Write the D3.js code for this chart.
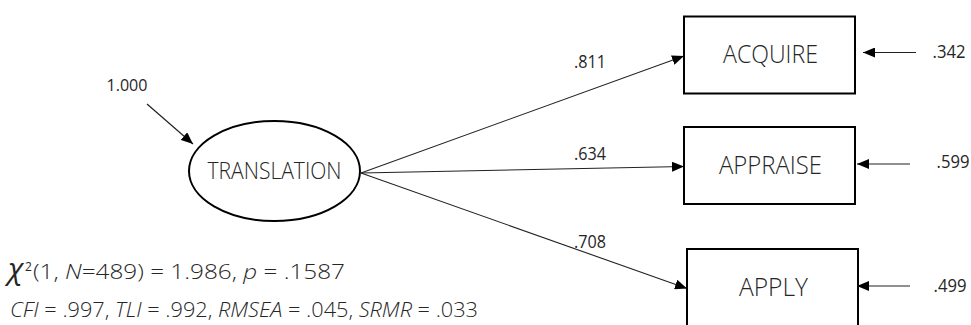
<!DOCTYPE html>
<html>
<head>
<meta charset="utf-8">
<script src="https://cdn.jsdelivr.net/npm/d3@7"></script>
<style>
  html, body { margin: 0; padding: 0; background: #fff; }
  svg { display: block; }
  text { font-family: "Open Sans", "Noto Sans", sans-serif; fill: #262626; }
</style>
</head>
<body>
<svg id="chart" width="971" height="325"></svg>
<script>
// ---- data ----
const latentName = "TRANSLATION";
const latentVariance = "1.000";
const indicators = ["ACQUIRE", "APPRAISE", "APPLY"];
const loadings = [".811", ".634", ".708"];
const residuals = [".342", ".599", ".499"];
const fitLine1 = [
  {t: "(1, ", i: false}, {t: "N", i: true}, {t: "=489) = 1.986, ", i: false},
  {t: "p", i: true}, {t: " = .1587", i: false}
];
const fitLine2 = [
  {t: "CFI", i: true}, {t: " = .997, ", i: false}, {t: "TLI", i: true}, {t: " = .992, ", i: false},
  {t: "RMSEA", i: true}, {t: " = .045, ", i: false}, {t: "SRMR", i: true}, {t: " = .033", i: false}
];

// ---- layout ----
const svg = d3.select("#chart");
svg.append("rect").attr("width", 971).attr("height", 325).attr("fill", "#fff");

const defs = svg.append("defs");
defs.append("marker")
  .attr("id", "arr").attr("viewBox", "0 0 12 10")
  .attr("refX", 12).attr("refY", 5)
  .attr("markerWidth", 12).attr("markerHeight", 10)
  .attr("markerUnits", "userSpaceOnUse")
  .attr("orient", "auto")
  .append("path").attr("d", "M0,0L12,5L0,10Z").attr("fill", "#000");

// scales for rows
const yRow = d3.scaleOrdinal().domain(indicators).range([55, 165.5, 287.5]);
const boxLeft = d3.scaleOrdinal().domain(indicators).range([684, 684, 687]);
const boxW = 171, boxH = 77;

const lat = {cx: 274.5, cy: 171, rx: 85.5, ry: 50};
const origin = {x: 361, y: 173};

// latent variance arrow
svg.append("line")
  .attr("x1", 147).attr("y1", 104).attr("x2", 193).attr("y2", 144)
  .attr("stroke", "#222").attr("stroke-width", 1.2)
  .attr("marker-end", "url(#arr)");
svg.append("text").attr("x", 127).attr("y", 91)
  .attr("text-anchor", "middle").attr("font-size", 17)
  .attr("textLength", 41).attr("lengthAdjust", "spacingAndGlyphs")
  .text(latentVariance);

// ellipse
svg.append("ellipse")
  .attr("cx", lat.cx).attr("cy", lat.cy).attr("rx", lat.rx).attr("ry", lat.ry)
  .attr("fill", "#fff").attr("stroke", "#000").attr("stroke-width", 2);
svg.append("text").attr("x", lat.cx).attr("y", 178.5)
  .attr("text-anchor", "middle").attr("font-size", 23).attr("font-weight", 300)
  .attr("textLength", 134).attr("lengthAdjust", "spacingAndGlyphs")
  .text(latentName);

const rows = indicators.map((name, i) => ({name, loading: loadings[i], resid: residuals[i]}));

// loading paths
svg.selectAll("line.load").data(rows).enter().append("line")
  .attr("class", "load")
  .attr("x1", origin.x).attr("y1", origin.y)
  .attr("x2", d => boxLeft(d.name)).attr("y2", d => yRow(d.name) + 1)
  .attr("stroke", "#222").attr("stroke-width", 1.1)
  .attr("marker-end", "url(#arr)");

const loadLabelY = [68, 160, 248];
svg.selectAll("text.load").data(rows).enter().append("text")
  .attr("class", "load")
  .attr("x", 590).attr("y", (d, i) => loadLabelY[i])
  .attr("text-anchor", "middle").attr("font-size", 17.5)
  .attr("textLength", 32).attr("lengthAdjust", "spacingAndGlyphs")
  .text(d => d.loading);

// boxes
svg.selectAll("rect.box").data(rows).enter().append("rect")
  .attr("class", "box")
  .attr("x", d => boxLeft(d.name)).attr("y", d => yRow(d.name) - boxH / 2)
  .attr("width", boxW).attr("height", boxH)
  .attr("fill", "#fff").attr("stroke", "#000").attr("stroke-width", 2);

const boxTextW = {ACQUIRE: 95, APPRAISE: 103, APPLY: 69};
svg.selectAll("text.box").data(rows).enter().append("text")
  .attr("class", "box")
  .attr("x", d => boxLeft(d.name) + boxW / 2 + 1)
  .attr("y", d => yRow(d.name) + 8)
  .attr("text-anchor", "middle").attr("font-size", 26).attr("font-weight", 300)
  .attr("textLength", d => boxTextW[d.name]).attr("lengthAdjust", "spacingAndGlyphs")
  .text(d => d.name);

// residual arrows
const residY = [52.5, 164, 286];
svg.selectAll("line.res").data(rows).enter().append("line")
  .attr("class", "res")
  .attr("x1", (d, i) => i === 0 ? 916 : 910).attr("y1", (d, i) => residY[i])
  .attr("x2", (d, i) => i === 0 ? 863 : 857).attr("y2", (d, i) => residY[i])
  .attr("stroke", "#222").attr("stroke-width", 1.1)
  .attr("marker-end", "url(#arr)");
const residX = [949, 953, 950];
const residLY = [58, 168, 292];
svg.selectAll("text.res").data(rows).enter().append("text")
  .attr("class", "res")
  .attr("x", (d, i) => residX[i]).attr("y", (d, i) => residLY[i])
  .attr("text-anchor", "middle").attr("font-size", 17.5)
  .attr("textLength", 33).attr("lengthAdjust", "spacingAndGlyphs")
  .text(d => d.resid);

// fit statistics
svg.append("text").attr("x", 8).attr("y", 279)
  .attr("font-family", "DejaVu Serif, serif").attr("font-style", "italic")
  .attr("font-size", 30).text("χ");
svg.append("text").attr("x", 25).attr("y", 271)
  .attr("font-size", 12).text("2");
const l1 = svg.append("text").attr("x", 33).attr("y", 279).attr("font-size", 20).attr("font-weight", 300)
  .attr("textLength", 312).attr("lengthAdjust", "spacingAndGlyphs");
l1.selectAll("tspan").data(fitLine1).enter().append("tspan")
  .attr("font-style", d => d.i ? "italic" : "normal").text(d => d.t);
const l2 = svg.append("text").attr("x", 10).attr("y", 317).attr("font-size", 20).attr("font-weight", 300)
  .attr("textLength", 468).attr("lengthAdjust", "spacingAndGlyphs");
l2.selectAll("tspan").data(fitLine2).enter().append("tspan")
  .attr("font-style", d => d.i ? "italic" : "normal").text(d => d.t);
</script>
</body>
</html>
